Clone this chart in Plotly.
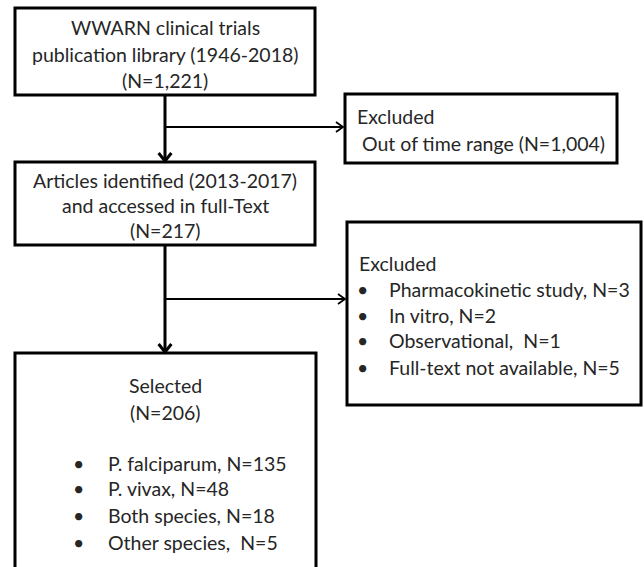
import plotly.graph_objects as go

# ---- data ----
library_lines = ["WWARN clinical trials", "publication library (1946-2018)", "(N=1,221)"]
identified_lines = ["Articles identified (2013-2017)", "and accessed in full-Text", "(N=217)"]
excluded1_lines = ["Excluded", " Out of time range (N=1,004)"]
excluded2_title = "Excluded"
excluded2_items = ["Pharmacokinetic study, N=3", "In vitro, N=2", "Observational,  N=1", "Full-text not available, N=5"]
selected_title = ["Selected", "(N=206)"]
selected_items = ["P. falciparum, N=135", "P. vivax, N=48", "Both species, N=18", "Other species,  N=5"]

FONT = "Lato"
FS = 19.5
TXT = "#262626"

fig = go.Figure()
shapes = []
annotations = []

def box(x0, y0, x1, y1, w=3):
    shapes.append(dict(type="rect", xref="x", yref="y", x0=x0, y0=y0, x1=x1, y1=y1,
                       line=dict(color="black", width=w), fillcolor="rgba(0,0,0,0)"))

def line(x0, y0, x1, y1, w=2.5):
    shapes.append(dict(type="line", xref="x", yref="y", x0=x0, y0=y0, x1=x1, y1=y1,
                       line=dict(color="black", width=w)))

def head(x, y, direction, w=2.5, s=8):
    if direction == "down":
        p = f"M {x-s*0.8} {y-s} L {x} {y} L {x+s*0.8} {y-s}"
    else:
        p = f"M {x-s} {y-s*0.7} L {x} {y} L {x-s} {y+s*0.7}"
    shapes.append(dict(type="path", xref="x", yref="y", path=p,
                       line=dict(color="black", width=w)))

def text(x, y, t, anchor="center"):
    annotations.append(dict(x=x, y=y, xref="x", yref="y", text=t, showarrow=False,
                            xanchor=anchor, yanchor="middle",
                            font=dict(family=FONT, size=FS, color=TXT)))

# boxes
box(15, 8, 315, 95)
box(345, 94, 617, 163)
box(15, 162, 315, 245)
box(347, 222, 641, 405)
box(15, 353, 316, 580)

# connectors
line(165, 95, 165, 161, 3)
head(165, 161, "down", 3)
line(165, 127, 343, 127, 1.8)
head(343, 127, "right", 1.8, 7)
line(165, 245, 165, 352, 3)
head(165, 352, "down", 3)
line(165, 299, 345, 299, 1.8)
head(345, 299, "right", 1.8, 7)

# texts
for t, y in zip(library_lines, [27, 54, 80]):
    text(165, y, t)
for t, y in zip(identified_lines, [180, 205, 230]):
    text(165, y, t)
for t, y in zip(excluded1_lines, [116, 143]):
    text(355, y, t, "left")
text(357, 263, excluded2_title, "left")
for t, y in zip(excluded2_items, [289, 315, 340, 367]):
    text(362, y, "•", "center")
    text(387, y, t, "left")
for t, y in zip(selected_title, [385, 412]):
    text(165, y, t)
for t, y in zip(selected_items, [463, 488, 515, 542]):
    text(78, y, "•", "center")
    text(106, y, t, "left")

fig.update_layout(
    width=644, height=567, margin=dict(l=0, r=0, t=0, b=0),
    paper_bgcolor="white", plot_bgcolor="white",
    xaxis=dict(range=[0, 644], visible=False, fixedrange=True),
    yaxis=dict(range=[567, 0], visible=False, fixedrange=True),
    shapes=shapes, annotations=annotations, showlegend=False,
)
fig.write_html("out.html", config={"displayModeBar": False},
               post_script="document.body.style.margin='0';document.body.style.padding='0';document.body.style.overflow='hidden';")
